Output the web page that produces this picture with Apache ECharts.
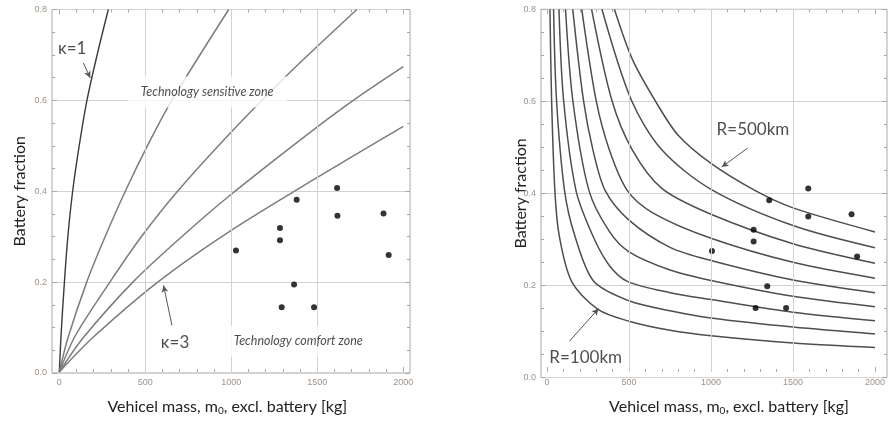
<!DOCTYPE html>
<html><head><meta charset="utf-8">
<script src="https://cdn.jsdelivr.net/npm/echarts@6/dist/echarts.min.js"></script>
<style>html,body{margin:0;padding:0;background:#fff}#c{width:888px;height:421px}</style>
</head><body><div id="c"></div>
<script>
// ---------- data ----------
const xTickValues = [0, 500, 1000, 1500, 2000];
const yTickValues = [0, 0.2, 0.4, 0.6, 0.8];
const xGridValues = [500, 1000, 1500];

// left panel: curves of constant kappa (mass [kg], battery fraction)
const kappaNames = ['κ=1', 'κ=1.5', 'κ=2', 'κ=2.5', 'κ=3'];
const kappa1  = [[0,0],[10,0.08],[30,0.2],[50,0.3],[78,0.4],[116,0.5],[161,0.6],[220,0.7],[285,0.8]];
const kappa15 = [[0,0],[51,0.076],[161,0.2],[268,0.3],[385,0.4],[520,0.505],[655,0.6],[985,0.8]];
const kappa2  = [[0,0],[93,0.08],[297,0.2],[480,0.3],[690,0.4],[993,0.527],[1324,0.655],[1730,0.8]];
const kappa25 = [[0,0],[140,0.076],[432,0.2],[725,0.303],[993,0.39],[1428,0.52],[1711,0.6],[2000,0.674]];
const kappa3  = [[0,0],[195,0.076],[578,0.2],[993,0.311],[1493,0.428],[2000,0.542]];

// right panel: curves of constant range
const rangeNames = ['R=100km','R=150km','R=200km','R=250km','R=300km','R=350km','R=400km','R=450km','R=500km'];
const range100 = [[18,0.8],[28,0.6],[48,0.4],[75,0.3],[150,0.2],[311,0.138],[500,0.112],[750,0.092],[1000,0.080],[1500,0.064],[2000,0.054]];
const range150 = [[40,0.8],[58,0.6],[107,0.4],[170,0.3],[285,0.2],[500,0.157],[750,0.135],[1000,0.119],[1500,0.099],[2000,0.084]];
const range200 = [[73,0.8],[101,0.6],[177,0.4],[280,0.3],[380,0.235],[490,0.2],[750,0.175],[1000,0.160],[1500,0.132],[2000,0.113]];
const range250 = [[113,0.8],[157,0.6],[256,0.4],[380,0.31],[500,0.265],[750,0.225],[1000,0.202],[1500,0.167],[2000,0.144]];
const range300 = [[157,0.8],[222,0.6],[280,0.49],[355,0.4],[500,0.335],[750,0.275],[1000,0.246],[1500,0.203],[2000,0.175]];
const range350 = [[212,0.8],[299,0.6],[380,0.49],[490,0.4],[650,0.35],[1000,0.295],[1500,0.242],[2000,0.207]];
const range400 = [[272,0.8],[395,0.6],[520,0.49],[700,0.405],[1000,0.348],[1500,0.283],[2000,0.240]];
const range450 = [[335,0.8],[514,0.6],[700,0.49],[1000,0.403],[1500,0.323],[2000,0.274]];
const range500 = [[411,0.8],[520,0.69],[657,0.6],[800,0.522],[1000,0.46],[1270,0.4],[1500,0.362],[2000,0.309]];

// vehicles (mass excl. battery [kg], battery fraction)
const vehiclesLeft  = [[1027,0.268],[1283,0.318],[1283,0.291],[1380,0.380],[1365,0.193],[1293,0.143],[1481,0.143],[1615,0.406],[1617,0.345],[1885,0.350],[1915,0.258]];
const vehiclesRight = [[1006,0.267],[1260,0.314],[1260,0.288],[1355,0.379],[1343,0.189],[1272,0.141],[1458,0.141],[1593,0.405],[1593,0.343],[1857,0.348],[1891,0.255]];

// annotation texts
const xTitle = 'Vehicel mass, m{sub|0}, excl. battery [kg]';
const yTitle = 'Battery fraction';
const zoneTop = 'Technology sensitive zone';
const zoneBottom = 'Technology comfort zone';

// ---------- styling ----------
const FONT = 'Lato';
const frameColor = '#a9a9a9';
const gridColor = '#d2d2d2';
const tickLabelColor = '#9e9388';

function xAxesFor(g, titlePad) {
  const base = {
    gridIndex: g, type: 'value', min: 0, max: 2000, interval: 500,
    axisLine: {show: false, onZero: false},
    axisTick: {show: true, inside: true, length: 5, lineStyle: {color: frameColor}},
    minorTick: {show: true, splitNumber: 5, length: 3, lineStyle: {color: frameColor}},
    splitLine: {show: false}
  };
  return [
    Object.assign({}, base, {
      position: 'bottom',
      axisLabel: {show: true, color: tickLabelColor, fontSize: 9, fontFamily: 'Liberation Sans', margin: 6,
        formatter: v => (xTickValues.indexOf(v) >= 0 ? String(v) : '')},
      name: xTitle, nameLocation: 'middle', nameGap: 26, nameMoveOverlap: false,
      nameTextStyle: {fontSize: 16, fontFamily: FONT, color: '#222', padding: titlePad,
        rich: {sub: {fontSize: 10, fontFamily: FONT, color: '#222', verticalAlign: 'bottom', padding: [8,0,0,0]}}}
    }),
    Object.assign({}, base, {position: 'top', axisLabel: {show: false}})
  ];
}
function yAxesFor(g, nameGap) {
  const base = {
    gridIndex: g, type: 'value', min: 0, max: 0.8, interval: 0.2,
    axisLine: {show: false, onZero: false},
    axisTick: {show: true, inside: true, length: 5, lineStyle: {color: frameColor}},
    minorTick: {show: true, splitNumber: 4, length: 3, lineStyle: {color: frameColor}}
  };
  return [
    Object.assign({}, base, {
      position: 'left',
      splitLine: {show: true, lineStyle: {color: gridColor, width: 1}},
      axisLabel: {show: true, color: tickLabelColor, fontSize: 9, fontFamily: 'Liberation Sans', margin: 5,
        formatter: v => v.toFixed(1)},
      name: yTitle, nameLocation: 'middle', nameGap: nameGap, nameMoveOverlap: false,
      nameTextStyle: {fontSize: 16, fontFamily: FONT, color: '#222'}
    }),
    Object.assign({}, base, {position: 'right', splitLine: {show: false}, axisLabel: {show: false}})
  ];
}

const series = [];
function gridLines(xi, yi) {
  series.push({
    type: 'line', xAxisIndex: xi, yAxisIndex: yi, data: [], z: 1, silent: true,
    markLine: {silent: true, symbol: ['none','none'], label: {show: false},
      lineStyle: {color: gridColor, type: 'solid', width: 1},
      data: xGridValues.map(v => ({xAxis: v}))}
  });
}
function curve(name, data, xi, yi, color, width) {
  series.push({type: 'line', name, data, xAxisIndex: xi, yAxisIndex: yi,
    showSymbol: false, symbol: 'none', smooth: 0.3, clip: true, z: 3,
    lineStyle: {color, width}});
}
function dots(name, data, xi, yi) {
  series.push({type: 'scatter', name, data, xAxisIndex: xi, yAxisIndex: yi,
    symbolSize: 6, itemStyle: {color: '#000'}, z: 4});
}
function note(xi, yi, items, arrows) {
  series.push({
    type: 'scatter', xAxisIndex: xi, yAxisIndex: yi, symbolSize: 0, z: 10, silent: true,
    data: items.map(it => ({value: it.at, label: Object.assign({
      show: true, position: 'inside', formatter: it.text, color: '#222', fontFamily: FONT,
      fontSize: it.size || 17, fontStyle: it.italic ? 'italic' : 'normal'
    }, it.box ? {backgroundColor: '#fff', padding: it.box} : {})})),
    markLine: {silent: true, symbol: ['none','arrow'], symbolSize: [5,7], label: {show: false},
      lineStyle: {color: '#555', width: 1, type: 'solid'},
      data: arrows.map(a => [{coord: a[0]}, {coord: a[1]}])}
  });
}

// left panel (xAxis 1, yAxis 2)
gridLines(1, 2);
curve(kappaNames[0], kappa1, 1, 2, '#3a3a3a', 1.4);
curve(kappaNames[1], kappa15, 1, 2, '#7c7c7c', 1.5);
curve(kappaNames[2], kappa2, 1, 2, '#7c7c7c', 1.5);
curve(kappaNames[3], kappa25, 1, 2, '#7c7c7c', 1.5);
curve(kappaNames[4], kappa3, 1, 2, '#7c7c7c', 1.5);
dots('vehicles', vehiclesLeft, 1, 2);
note(1, 2, [
  {text: kappaNames[0], at: [75, 0.715]},
  {text: zoneTop, at: [860, 0.618], size: 12.5, italic: true, box: [9, 13]},
  {text: kappaNames[4], at: [673, 0.066]},
  {text: zoneBottom, at: [1389, 0.068], size: 12.5, italic: true, box: [9, 12]}
], [
  [[140, 0.682], [180, 0.649]],
  [[655, 0.103], [606, 0.191]]
]);

// right panel (xAxis 4, yAxis 5)
gridLines(4, 5);
[range100, range150, range200, range250, range300, range350, range400, range450, range500]
  .forEach((d, i) => curve(rangeNames[i], d, 4, 5, '#4e4e4e', 1.5));
dots('vehicles', vehiclesRight, 4, 5);
note(4, 5, [
  {text: rangeNames[8], at: [1256, 0.535]},
  {text: rangeNames[0], at: [236, 0.032]}
], [
  [[1224, 0.494], [1065, 0.452]],
  [[137, 0.068], [315, 0.140]]
]);

const hiddenX = (g, min, max) => ({gridIndex: g, type: 'value', min, max, show: false, axisLine: {onZero: false}});
const hiddenY = g => ({gridIndex: g, type: 'value', min: 0, max: 0.8, show: false, axisLine: {onZero: false}});

const option = {
  animation: false,
  backgroundColor: '#fff',
  grid: [
    {left: 52, top: 9.5, width: 358, height: 363.5, show: true, borderColor: frameColor, borderWidth: 1, backgroundColor: 'transparent'},
    {left: 59.3, top: 9.5, width: 344, height: 363.5},
    {left: 541, top: 9.3, width: 346, height: 368.2, show: true, borderColor: frameColor, borderWidth: 1, backgroundColor: 'transparent'},
    {left: 547, top: 9.3, width: 336, height: 368.2}
  ],
  xAxis: [hiddenX(0, -40, 2040)].concat(xAxesFor(1, [0, 8, 0, 0]), [hiddenX(2, -36, 2030)], xAxesFor(3, [0, 0, 0, 36])),
  yAxis: yAxesFor(0, 24).concat([hiddenY(1)], yAxesFor(2, 12), [hiddenY(3)]),
  series
};
const chart = echarts.init(document.getElementById('c'));
chart.setOption(option);
</script></body></html>
